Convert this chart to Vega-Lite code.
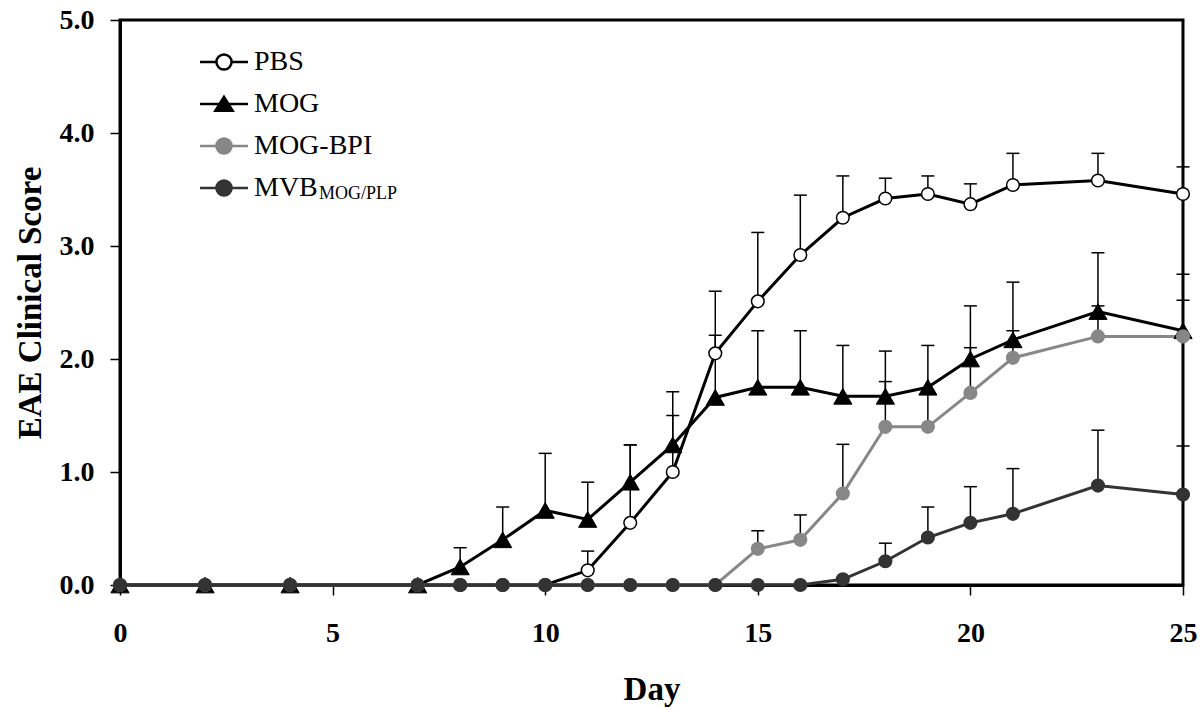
{
  "$schema": "https://vega.github.io/schema/vega-lite/v6.json",
  "width": 1063,
  "height": 565,
  "autosize": "none",
  "padding": {"left": 120, "top": 20, "right": 18, "bottom": 124},
  "background": "white",
  "config": {
    "view": {"stroke": "black", "strokeWidth": 3},
    "font": "Liberation Serif",
    "axis": {
      "grid": false,
      "labelFlush": false,
      "domainColor": "black",
      "domainWidth": 3,
      "tickColor": "black",
      "tickWidth": 1.5,
      "tickSize": 10,
      "labelFont": "Liberation Serif",
      "labelFontWeight": "bold",
      "labelFontSize": 28,
      "labelColor": "black",
      "titleFont": "Liberation Serif",
      "titleFontWeight": "bold",
      "titleFontSize": 33,
      "titleColor": "black"
    },
    "legend": {
      "orient": "none",
      "legendX": 90,
      "legendY": 28,
      "padding": 0,
      "symbolSize": 576,
      "symbolStrokeWidth": 2.5,
      "symbolOpacity": 1,
      "labelFont": "Liberation Serif",
      "labelFontSize": 28,
      "labelColor": "black",
      "labelOffset": 16,
      "labelLimit": 400,
      "rowPadding": 14
    }
  },
  "datasets": {
    "scores": [
      {"day": 0, "group": "PBS", "score": 0},
      {"day": 2, "group": "PBS", "score": 0},
      {"day": 4, "group": "PBS", "score": 0},
      {"day": 7, "group": "PBS", "score": 0},
      {"day": 8, "group": "PBS", "score": 0},
      {"day": 9, "group": "PBS", "score": 0},
      {"day": 10, "group": "PBS", "score": 0},
      {"day": 11, "group": "PBS", "score": 0.13, "upper": 0.3},
      {"day": 12, "group": "PBS", "score": 0.55, "upper": 1.24},
      {"day": 13, "group": "PBS", "score": 1.0, "upper": 1.5},
      {"day": 14, "group": "PBS", "score": 2.05, "upper": 2.6},
      {"day": 15, "group": "PBS", "score": 2.51, "upper": 3.12},
      {"day": 16, "group": "PBS", "score": 2.92, "upper": 3.45},
      {"day": 17, "group": "PBS", "score": 3.25, "upper": 3.62},
      {"day": 18, "group": "PBS", "score": 3.42, "upper": 3.6},
      {"day": 19, "group": "PBS", "score": 3.46, "upper": 3.62},
      {"day": 20, "group": "PBS", "score": 3.37, "upper": 3.55},
      {"day": 21, "group": "PBS", "score": 3.54, "upper": 3.82},
      {"day": 23, "group": "PBS", "score": 3.58, "upper": 3.82},
      {"day": 25, "group": "PBS", "score": 3.46, "upper": 3.7},
      {"day": 0, "group": "MOG", "score": 0},
      {"day": 2, "group": "MOG", "score": 0},
      {"day": 4, "group": "MOG", "score": 0},
      {"day": 7, "group": "MOG", "score": 0},
      {"day": 8, "group": "MOG", "score": 0.16, "upper": 0.33},
      {"day": 9, "group": "MOG", "score": 0.4, "upper": 0.69},
      {"day": 10, "group": "MOG", "score": 0.66, "upper": 1.165},
      {"day": 11, "group": "MOG", "score": 0.58, "upper": 0.91},
      {"day": 12, "group": "MOG", "score": 0.91, "upper": 1.24},
      {"day": 13, "group": "MOG", "score": 1.24, "upper": 1.71},
      {"day": 14, "group": "MOG", "score": 1.66, "upper": 2.21},
      {"day": 15, "group": "MOG", "score": 1.75, "upper": 2.25},
      {"day": 16, "group": "MOG", "score": 1.75, "upper": 2.25},
      {"day": 17, "group": "MOG", "score": 1.67, "upper": 2.12},
      {"day": 18, "group": "MOG", "score": 1.67, "upper": 2.07},
      {"day": 19, "group": "MOG", "score": 1.75, "upper": 2.12},
      {"day": 20, "group": "MOG", "score": 2.0, "upper": 2.47},
      {"day": 21, "group": "MOG", "score": 2.17, "upper": 2.68},
      {"day": 23, "group": "MOG", "score": 2.42, "upper": 2.94},
      {"day": 25, "group": "MOG", "score": 2.25, "upper": 2.75},
      {"day": 0, "group": "MOG-BPI", "score": 0},
      {"day": 2, "group": "MOG-BPI", "score": 0},
      {"day": 4, "group": "MOG-BPI", "score": 0},
      {"day": 7, "group": "MOG-BPI", "score": 0},
      {"day": 8, "group": "MOG-BPI", "score": 0},
      {"day": 9, "group": "MOG-BPI", "score": 0},
      {"day": 10, "group": "MOG-BPI", "score": 0},
      {"day": 11, "group": "MOG-BPI", "score": 0},
      {"day": 12, "group": "MOG-BPI", "score": 0},
      {"day": 13, "group": "MOG-BPI", "score": 0},
      {"day": 14, "group": "MOG-BPI", "score": 0},
      {"day": 15, "group": "MOG-BPI", "score": 0.32, "upper": 0.48},
      {"day": 16, "group": "MOG-BPI", "score": 0.4, "upper": 0.62},
      {"day": 17, "group": "MOG-BPI", "score": 0.81, "upper": 1.245},
      {"day": 18, "group": "MOG-BPI", "score": 1.4, "upper": 1.8},
      {"day": 19, "group": "MOG-BPI", "score": 1.4, "upper": 1.72},
      {"day": 20, "group": "MOG-BPI", "score": 1.7, "upper": 2.1},
      {"day": 21, "group": "MOG-BPI", "score": 2.01, "upper": 2.25},
      {"day": 23, "group": "MOG-BPI", "score": 2.2, "upper": 2.47},
      {"day": 25, "group": "MOG-BPI", "score": 2.2, "upper": 2.52},
      {"day": 0, "group": "MVB", "score": 0},
      {"day": 2, "group": "MVB", "score": 0},
      {"day": 4, "group": "MVB", "score": 0},
      {"day": 7, "group": "MVB", "score": 0},
      {"day": 8, "group": "MVB", "score": 0},
      {"day": 9, "group": "MVB", "score": 0},
      {"day": 10, "group": "MVB", "score": 0},
      {"day": 11, "group": "MVB", "score": 0},
      {"day": 12, "group": "MVB", "score": 0},
      {"day": 13, "group": "MVB", "score": 0},
      {"day": 14, "group": "MVB", "score": 0},
      {"day": 15, "group": "MVB", "score": 0},
      {"day": 16, "group": "MVB", "score": 0},
      {"day": 17, "group": "MVB", "score": 0.05},
      {"day": 18, "group": "MVB", "score": 0.21, "upper": 0.37},
      {"day": 19, "group": "MVB", "score": 0.42, "upper": 0.69},
      {"day": 20, "group": "MVB", "score": 0.55, "upper": 0.87},
      {"day": 21, "group": "MVB", "score": 0.63, "upper": 1.03},
      {"day": 23, "group": "MVB", "score": 0.88, "upper": 1.37},
      {"day": 25, "group": "MVB", "score": 0.8, "upper": 1.23}
    ],
    "note": [{"text": "MOG/PLP"}]
  },
  "layer": [
    {
      "data": {"name": "scores"},
      "transform": [{"filter": "isValid(datum.upper)"}],
      "mark": {"type": "rule", "color": "black", "strokeWidth": 1.5, "clip": false},
      "encoding": {
        "x": {"field": "day", "type": "quantitative"},
        "y": {"field": "score", "type": "quantitative"},
        "y2": {"field": "upper"}
      }
    },
    {
      "data": {"name": "scores"},
      "transform": [{"filter": "isValid(datum.upper)"}],
      "mark": {"type": "tick", "orient": "horizontal", "color": "black", "size": 13, "thickness": 1.5, "opacity": 1, "clip": false},
      "encoding": {
        "x": {"field": "day", "type": "quantitative"},
        "y": {"field": "upper", "type": "quantitative"}
      }
    },
    {
      "data": {"name": "scores"},
      "mark": {"type": "line", "strokeWidth": 3, "clip": false},
      "encoding": {
        "x": {
          "field": "day", "type": "quantitative",
          "scale": {"domain": [0, 25], "nice": false, "zero": false},
          "axis": {"values": [0, 5, 10, 15, 20, 25], "title": "Day", "labelPadding": 24, "titlePadding": 26}
        },
        "y": {
          "field": "score", "type": "quantitative",
          "scale": {"domain": [0, 5], "nice": false},
          "axis": {"values": [0, 1, 2, 3, 4, 5], "format": ".1f", "title": "EAE Clinical Score", "labelPadding": 16, "titlePadding": 12}
        },
        "stroke": {
          "field": "group", "type": "nominal", "title": null,
          "scale": {"domain": ["PBS", "MOG", "MOG-BPI", "MVB"], "range": ["#000000", "#000000", "#878787", "#333333"]}
        }
      }
    },
    {
      "data": {"name": "scores"},
      "transform": [{"filter": "datum.group === 'MOG'"}],
      "mark": {"type": "point", "shape": "triangle-up", "size": 330, "strokeWidth": 1, "opacity": 1, "clip": false},
      "encoding": {
        "x": {"field": "day", "type": "quantitative"},
        "y": {"field": "score", "type": "quantitative"},
        "stroke": {"field": "group", "type": "nominal", "title": null},
        "fill": {
          "field": "group", "type": "nominal", "title": null,
          "scale": {"domain": ["PBS", "MOG", "MOG-BPI", "MVB"], "range": ["#ffffff", "#000000", "#878787", "#333333"]}
        }
      }
    },
    {
      "data": {"name": "scores"},
      "transform": [{"filter": "datum.group !== 'MOG'"}],
      "mark": {"type": "point", "shape": "circle", "size": 160, "strokeWidth": 1.5, "opacity": 1, "clip": false},
      "encoding": {
        "x": {"field": "day", "type": "quantitative"},
        "y": {"field": "score", "type": "quantitative"},
        "stroke": {"field": "group", "type": "nominal", "title": null},
        "fill": {"field": "group", "type": "nominal", "title": null}
      }
    },
    {
      "data": {"name": "scores"},
      "transform": [{"filter": "false"}],
      "mark": {"type": "point", "opacity": 1},
      "encoding": {
        "x": {"field": "day", "type": "quantitative"},
        "y": {"field": "score", "type": "quantitative"},
        "stroke": {"field": "group", "type": "nominal", "title": null},
        "fill": {"field": "group", "type": "nominal", "title": null},
        "shape": {
          "field": "group", "type": "nominal", "title": null,
          "scale": {
            "domain": ["PBS", "MOG", "MOG-BPI", "MVB"],
            "range": [
              "M-2,0L-0.63,0M0.63,0L2,0M-0.63,0A0.63,0.63,0,1,0,0.63,0A0.63,0.63,0,1,0,-0.63,0Z",
              "M-2,0L2,0M0,-0.6L0.72,0.56L-0.72,0.56Z",
              "M-2,0L2,0M-0.63,0A0.63,0.63,0,1,0,0.63,0A0.63,0.63,0,1,0,-0.63,0Z",
              "M-2,0L2,0M-0.63,0A0.63,0.63,0,1,0,0.63,0A0.63,0.63,0,1,0,-0.63,0Z"
            ]
          }
        }
      }
    },
    {
      "data": {"name": "note"},
      "mark": {"type": "text", "font": "Liberation Serif", "fontSize": 18, "color": "black", "align": "left", "baseline": "alphabetic"},
      "encoding": {
        "text": {"field": "text"},
        "x": {"datum": 4.68, "type": "quantitative"},
        "y": {"datum": 3.42, "type": "quantitative"}
      }
    }
  ]
}
